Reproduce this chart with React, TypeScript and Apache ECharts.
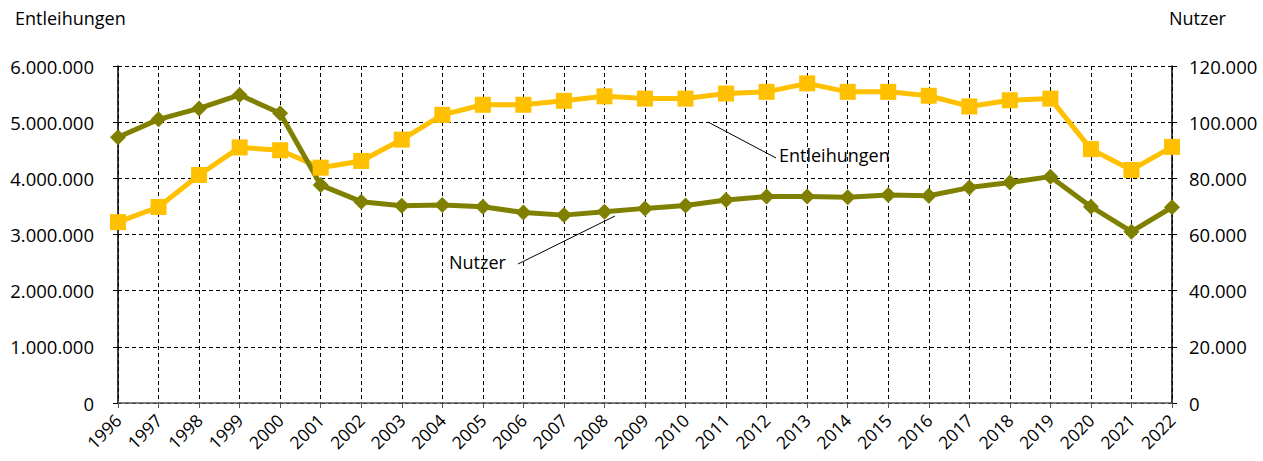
import React, { useEffect, useRef } from "react";
import * as echarts from "echarts";

const years = ["1996","1997","1998","1999","2000","2001","2002","2003","2004","2005","2006","2007","2008","2009","2010","2011","2012","2013","2014","2015","2016","2017","2018","2019","2020","2021","2022"];
const entleihungen = [3220000,3490000,4060000,4550000,4500000,4190000,4310000,4690000,5130000,5310000,5310000,5380000,5460000,5420000,5420000,5510000,5540000,5690000,5540000,5540000,5470000,5280000,5390000,5420000,4520000,4150000,4560000];
const nutzer = [94600,101000,104900,109700,103200,77600,71700,70200,70500,69900,67800,66900,68100,69300,70300,72300,73500,73500,73300,74100,73800,76700,78500,80600,69900,61000,69700];

const FONT = "'Open Sans', 'Noto Sans', sans-serif";
const fmt = (v: number) => String(Math.round(v)).replace(/\B(?=(\d{3})+(?!\d))/g, ".");

export default function App() {
  const ref = useRef<HTMLDivElement>(null);
  useEffect(() => {
    if (!ref.current) return;
    const chart = echarts.init(ref.current, null, { renderer: "svg" });
    const gridLine = { show: true, lineStyle: { color: "#000", type: [4, 3] as any, width: 1 } };
    chart.setOption({
      animation: false,
      grid: { left: 118, right: 91, top: 66, bottom: 58, containLabel: false },
      xAxis: [
        {
          type: "category",
          data: years,
          boundaryGap: false,
          axisLine: { show: true, lineStyle: { color: "#555", width: 1.5 } },
          axisTick: { show: true, length: 5, lineStyle: { color: "#555" } },
          axisLabel: { show: false },
          splitLine: gridLine,
        },
        {
          type: "category",
          data: years,
          boundaryGap: false,
          position: "bottom",
          offset: 10,
          axisLine: { show: false },
          axisTick: { show: false },
          axisLabel: { rotate: 45, margin: 4, color: "#000", fontSize: 17.5, fontFamily: FONT, interval: 0 },
          splitLine: { show: false },
        },
      ],
      yAxis: [
        {
          type: "value", min: 0, max: 6000000, interval: 1000000,
          axisLine: { show: true, lineStyle: { color: "#000", width: 1.5 } },
          axisTick: { show: true, length: 5, lineStyle: { color: "#000" } },
          axisLabel: { formatter: fmt, margin: 24, color: "#000", fontSize: 18.5, fontFamily: FONT },
          splitLine: gridLine,
        },
        {
          type: "value", min: 0, max: 120000, interval: 20000,
          position: "right",
          axisLine: { show: true, lineStyle: { color: "#000", width: 1.5 } },
          axisTick: { show: true, length: 5, lineStyle: { color: "#000" } },
          axisLabel: { formatter: fmt, margin: 17, color: "#000", fontSize: 18.5, fontFamily: FONT },
          splitLine: { show: false },
        },
      ],
      series: [
        {
          name: "Entleihungen", type: "line", xAxisIndex: 0, yAxisIndex: 0, data: entleihungen,
          symbol: "rect", symbolSize: 16,
          lineStyle: { color: "#FFC000", width: 5 },
          itemStyle: { color: "#FFC000" },
        },
        {
          name: "Nutzer", type: "line", xAxisIndex: 0, yAxisIndex: 1, data: nutzer,
          symbol: "diamond", symbolSize: 16,
          lineStyle: { color: "#808000", width: 5 },
          itemStyle: { color: "#808000" },
        },
      ],
      graphic: [
        { type: "text", left: 15, top: 9, style: { text: "Entleihungen", fontSize: 18, fontFamily: FONT, fill: "#000" } },
        { type: "text", left: 1169, top: 9, style: { text: "Nutzer", fontSize: 18, fontFamily: FONT, fill: "#000" } },
        { type: "line", shape: { x1: 708, y1: 122, x2: 776, y2: 158 }, style: { stroke: "#000", lineWidth: 1 } },
        { type: "text", left: 779, top: 146, style: { text: "Entleihungen", fontSize: 18, fontFamily: FONT, fill: "#000" } },
        { type: "line", shape: { x1: 615, y1: 216, x2: 518, y2: 264 }, style: { stroke: "#000", lineWidth: 1 } },
        { type: "text", left: 449, top: 253, style: { text: "Nutzer", fontSize: 18, fontFamily: FONT, fill: "#000" } },
      ],
    });
    return () => chart.dispose();
  }, []);
  return <div ref={ref} style={{ width: 1263, height: 461, position: "absolute", left: 0, top: 0, background: "#fff" }} />;
}
